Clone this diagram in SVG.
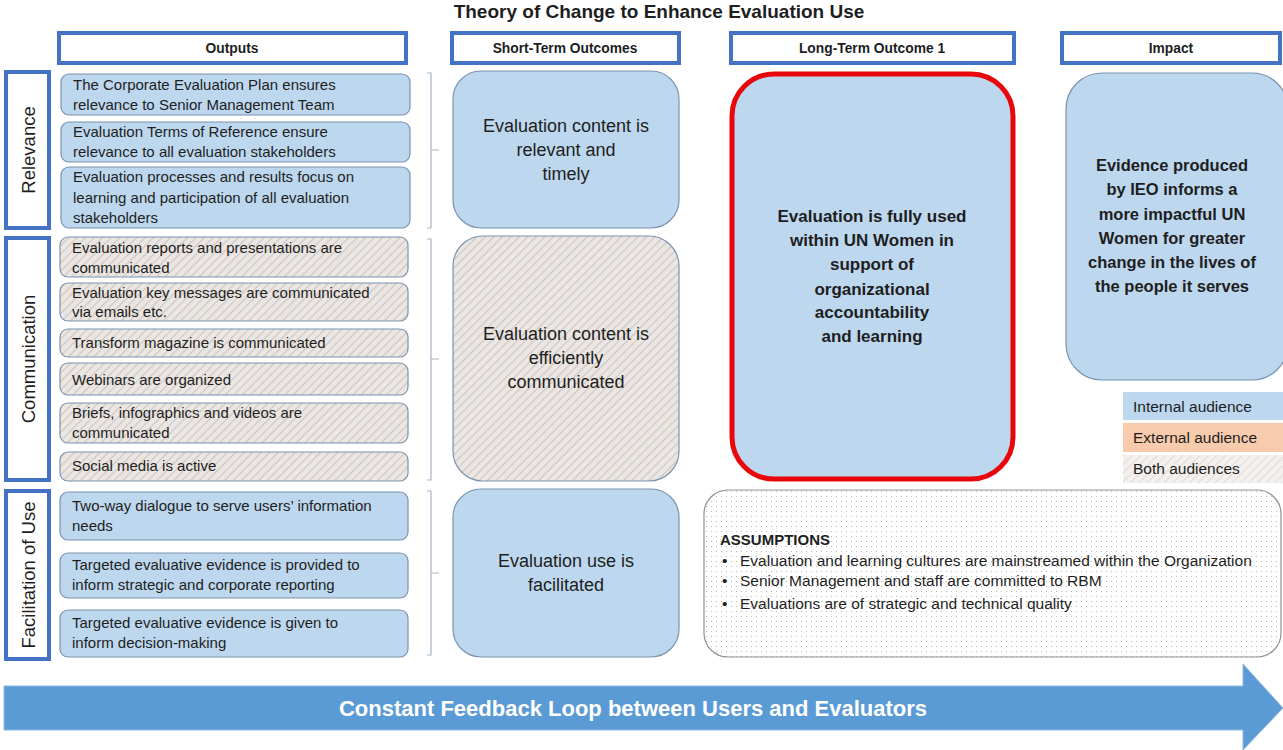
<svg xmlns="http://www.w3.org/2000/svg" width="1283" height="750" viewBox="0 0 1283 750">
<defs>
<pattern id="hatch" patternUnits="userSpaceOnUse" width="6" height="6" patternTransform="rotate(45)">
<rect width="6" height="6" fill="#ece6e2"/>
<line x1="0" y1="0" x2="0" y2="6" stroke="#c9c6c4" stroke-width="2.2"/>
</pattern>
<pattern id="dots" patternUnits="userSpaceOnUse" width="5" height="5">
<rect width="5" height="5" fill="#ffffff"/>
<rect x="1" y="1" width="1" height="1" fill="#b8b8b8"/>
</pattern>
<style>
text{font-family:"Liberation Sans",Arial,sans-serif;fill:#1e1e1e}
.hdr{fill:#fff;stroke:#4472c4;stroke-width:4}
.hdrt{font-size:13.8px;font-weight:bold;text-anchor:middle}
.side{fill:#fff;stroke:#4472c4;stroke-width:4}
.sidet{font-size:18.5px;text-anchor:middle}
.blue{fill:#bdd7ee;stroke:#7a93b0;stroke-width:1.2}
.hat{fill:url(#hatch);stroke:#7a93b0;stroke-width:1.2}
.ot{font-size:15px}
.st{font-size:18px;text-anchor:middle}
.bt{font-size:17px;font-weight:bold;text-anchor:middle}
.br{fill:none;stroke:#a6b4c2;stroke-width:1.2}
.at{font-size:15.5px}
.lt{font-size:15.5px}
</style>
</defs>
<rect width="1283" height="750" fill="#fff"/>
<text x="659" y="18" style="font-size:19px;font-weight:bold;text-anchor:middle">Theory of Change to Enhance Evaluation Use</text>

<g id="headers">
<g id="h-outputs"><rect class="hdr" x="59" y="33" width="347" height="30"/><text class="hdrt" x="232" y="53">Outputs</text></g>
<g id="h-short"><rect class="hdr" x="452" y="33" width="227" height="30"/><text class="hdrt" x="565" y="53">Short-Term Outcomes</text></g>
<g id="h-long"><rect class="hdr" x="731" y="33" width="283" height="30"/><text class="hdrt" x="872" y="53">Long-Term Outcome 1</text></g>
<g id="h-impact"><rect class="hdr" x="1062" y="33" width="218" height="30"/><text class="hdrt" x="1171" y="53">Impact</text></g>
</g>

<g id="side-relevance"><rect class="side" x="6" y="72" width="43" height="156"/><text class="sidet" transform="translate(35,150) rotate(-90)">Relevance</text></g>
<g id="side-communication"><rect class="side" x="6" y="238" width="43" height="242"/><text class="sidet" transform="translate(35,359) rotate(-90)">Communication</text></g>
<g id="side-facilitation"><rect class="side" x="6" y="491" width="43" height="168"/><text class="sidet" transform="translate(35,575) rotate(-90)">Facilitation of Use</text></g>

<g id="out-r1"><rect class="blue" x="61" y="74" width="349" height="41" rx="8"/><text class="ot" x="73" y="90">The Corporate Evaluation Plan ensures</text><text class="ot" x="73" y="110">relevance to Senior Management Team</text></g>
<g id="out-r2"><rect class="blue" x="61" y="122" width="349" height="40" rx="8"/><text class="ot" x="73" y="137">Evaluation Terms of Reference ensure</text><text class="ot" x="73" y="157">relevance to all evaluation stakeholders</text></g>
<g id="out-r3"><rect class="blue" x="61" y="167" width="349" height="61" rx="8"/><text class="ot" x="73" y="182">Evaluation processes and results focus on</text><text class="ot" x="73" y="203">learning and participation of all evaluation</text><text class="ot" x="73" y="223">stakeholders</text></g>

<g id="out-c1"><rect class="hat" x="60" y="237" width="348" height="40" rx="8"/><text class="ot" x="72" y="253">Evaluation reports and presentations are</text><text class="ot" x="72" y="273">communicated</text></g>
<g id="out-c2"><rect class="hat" x="60" y="283" width="348" height="38" rx="8"/><text class="ot" x="72" y="298">Evaluation key messages are communicated</text><text class="ot" x="72" y="317">via emails etc.</text></g>
<g id="out-c3"><rect class="hat" x="60" y="329" width="348" height="28" rx="8"/><text class="ot" x="72" y="348">Transform magazine is communicated</text></g>
<g id="out-c4"><rect class="hat" x="60" y="363" width="348" height="32" rx="8"/><text class="ot" x="72" y="385">Webinars are organized</text></g>
<g id="out-c5"><rect class="hat" x="60" y="403" width="348" height="40" rx="8"/><text class="ot" x="72" y="418">Briefs, infographics and videos are</text><text class="ot" x="72" y="438">communicated</text></g>
<g id="out-c6"><rect class="hat" x="60" y="452" width="348" height="29" rx="8"/><text class="ot" x="72" y="471">Social media is active</text></g>

<g id="out-f1"><rect class="blue" x="60" y="492" width="348" height="48" rx="8"/><text class="ot" x="72" y="511">Two-way dialogue to serve users’ information</text><text class="ot" x="72" y="531">needs</text></g>
<g id="out-f2"><rect class="blue" x="60" y="553" width="348" height="45" rx="8"/><text class="ot" x="72" y="570">Targeted evaluative evidence is provided to</text><text class="ot" x="72" y="590">inform strategic and corporate reporting</text></g>
<g id="out-f3"><rect class="blue" x="60" y="610" width="348" height="47" rx="8"/><text class="ot" x="72" y="628">Targeted evaluative evidence is given to</text><text class="ot" x="72" y="648">inform decision-making</text></g>

<g id="connectors">
<path class="br" d="M427,73 h4 v155 h-4 M431,150 h8"/>
<path class="br" d="M427,239 h4 v241 h-4 M431,359 h8"/>
<path class="br" d="M427,491 h4 v164 h-4 M431,573 h8"/>
</g>

<g id="st-relevant"><rect class="blue" x="453" y="71" width="226" height="157" rx="28"/><text class="st" x="566" y="132">Evaluation content is</text><text class="st" x="566" y="156">relevant and</text><text class="st" x="566" y="180">timely</text></g>
<g id="st-communicated"><rect class="hat" x="453" y="236" width="226" height="245" rx="30"/><text class="st" x="566" y="340">Evaluation content is</text><text class="st" x="566" y="364">efficiently</text><text class="st" x="566" y="388">communicated</text></g>
<g id="st-facilitated"><rect class="blue" x="453" y="489" width="226" height="168" rx="28"/><text class="st" x="566" y="567">Evaluation use is</text><text class="st" x="566" y="591">facilitated</text></g>

<g id="long-term"><rect x="732" y="74" width="281" height="405" rx="42" fill="#bdd7ee" stroke="#e8080b" stroke-width="5"/>
<text class="bt" x="872" y="222">Evaluation is fully used</text><text class="bt" x="872" y="246">within UN Women in</text><text class="bt" x="872" y="270">support of</text><text class="bt" x="872" y="295">organizational</text><text class="bt" x="872" y="318">accountability</text><text class="bt" x="872" y="342">and learning</text></g>

<g id="impact"><rect x="1066" y="73" width="222" height="307" rx="36" fill="#bdd7ee" stroke="#7a93b0" stroke-width="1.2"/>
<text class="bt" x="1172" y="171" style="font-size:16.5px">Evidence produced</text><text class="bt" x="1172" y="195" style="font-size:16.5px">by IEO informs a</text><text class="bt" x="1172" y="220" style="font-size:16.5px">more impactful UN</text><text class="bt" x="1172" y="244" style="font-size:16.5px">Women for greater</text><text class="bt" x="1172" y="268" style="font-size:16.5px">change in the lives of</text><text class="bt" x="1172" y="292" style="font-size:16.5px">the people it serves</text></g>

<g id="legend">
<rect x="1123" y="392" width="160" height="28" fill="#bdd7ee"/><text class="lt" x="1133" y="412">Internal audience</text>
<rect x="1123" y="423" width="160" height="29" fill="#f8cbad"/><text class="lt" x="1133" y="443">External audience</text>
<rect x="1123" y="455" width="160" height="28" fill="url(#hatch)" opacity="0.6"/><text class="lt" x="1133" y="474">Both audiences</text>
</g>

<g id="assumptions"><rect x="704" y="490" width="577" height="167" rx="24" fill="url(#dots)" stroke="#8a9199" stroke-width="1.2"/>
<text x="720" y="545" style="font-size:15px;font-weight:bold">ASSUMPTIONS</text>
<text class="at" x="722" y="566">•</text><text class="at" x="740" y="566">Evaluation and learning cultures are mainstreamed within the Organization</text>
<text class="at" x="722" y="586">•</text><text class="at" x="740" y="586">Senior Management and staff are committed to RBM</text>
<text class="at" x="722" y="609">•</text><text class="at" x="740" y="609">Evaluations are of strategic and technical quality</text>
</g>

<g id="feedback-arrow"><path d="M4,686 H1243 V664 L1283,708 L1243,750 V730 H4 Z" fill="#5b9bd5" stroke="#8fb7df" stroke-width="1"/>
<text x="633" y="716" style="font-size:22px;font-weight:bold;fill:#fff;text-anchor:middle">Constant Feedback Loop between Users and Evaluators</text></g>
</svg>
